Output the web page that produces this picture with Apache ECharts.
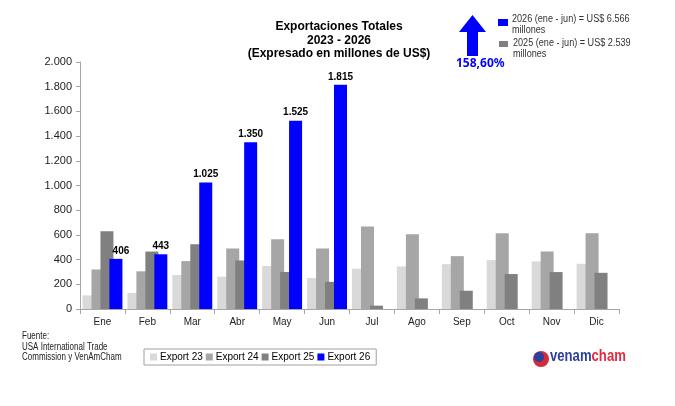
<!DOCTYPE html>
<html>
<head>
<meta charset="utf-8">
<script src="https://cdn.jsdelivr.net/npm/echarts@6/dist/echarts.min.js"></script>
<style>
    html, body { margin: 0; padding: 0; background: #fff; }
    #chart { width: 675px; height: 406px; }
</style>
</head>
<body>
<div id="chart"></div>
<script>
// datos
var meses = ["Ene", "Feb", "Mar", "Abr", "May", "Jun", "Jul", "Ago", "Sep", "Oct", "Nov", "Dic"];
var export23 = [110, 130, 275, 262, 348, 250, 326, 345, 363, 396, 385, 366];
var export24 = [320, 305, 388, 490, 565, 490, 668, 606, 428, 614, 466, 614];
var export25 = [630, 465, 525, 393, 300, 220, 27, 86, 148, 283, 299, 293];
var export26 = [406, 443, 1025, 1350, 1525, 1815, null, null, null, null, null, null];
var nombres = ["Export 23", "Export 24", "Export 25", "Export 26"];
var colores = ["#d9d9d9", "#a6a6a6", "#808080", "#0000ff"];

var fuente = "Liberation Sans, Arial, sans-serif";

//separador de miles con punto
function miles(v) {
    return String(v).replace(/\B(?=(\d{3})+(?!\d))/g, ".");
}

var myChart = echarts.init(document.getElementById('chart'));

var datos = [export23, export24, export25, export26];
var series = [];
for (let i = 0; i < datos.length; i++) {
    let s = {
        name: nombres[i],
        type: 'bar',
        data: datos[i],
        barWidth: 13,
        barGap: '-31%',
        itemStyle: {color: colores[i]}
    };
    if (i === 3) {
        s.label = {
            show: true,
            position: 'top',
            distance: 3,
            color: '#000',
            fontWeight: 'bold',
            fontSize: 10,
            fontFamily: fuente,
            formatter: function (p) {
                return miles(p.value);
            }
        };
        // la etiqueta de enero va corrida a la derecha
        s.labelLayout = function (p) {
            if (p.dataIndex === 0) {
                return {dx: 5};
            }
            return {};
        };
    }
    series.push(s);
}

var option = {
    backgroundColor: '#fff',
    animation: false,
    textStyle: {fontFamily: fuente},
    title: {
        text: "Exportaciones Totales\n2023 - 2026\n(Expresado en millones de US$)",
        left: 334,
        top: 15,
        textAlign: 'center',
        textStyle: {fontSize: 12, fontWeight: 'bold', color: '#000', lineHeight: 13.5, fontFamily: fuente}
    },
    legend: {
        data: nombres,
        left: 144,
        top: 349,
        itemWidth: 7,
        itemHeight: 7,
        itemGap: 3,
        padding: [3, 6, 3, 6],
        borderColor: '#a0a0a0',
        borderWidth: 1,
        icon: 'rect',
        textStyle: {fontSize: 10, color: '#000', fontFamily: fuente, padding: [0, 0, 0, -2]}
    },
    grid: {left: 80, right: 56, top: 62, bottom: 97},
    xAxis: {
        type: 'category',
        data: meses,
        axisLine: {lineStyle: {color: '#a6a6a6'}},
        axisTick: {show: true, length: 5, lineStyle: {color: '#a6a6a6'}},
        axisLabel: {color: '#222', fontSize: 10, margin: 8}
    },
    yAxis: {
        type: 'value',
        min: 0,
        max: 2000,
        interval: 200,
        splitLine: {show: false},
        axisLine: {show: true, lineStyle: {color: '#a6a6a6'}},
        axisTick: {show: true, length: 4, lineStyle: {color: '#a6a6a6'}},
        axisLabel: {
            color: '#222', fontSize: 11, margin: 8,
            formatter: function (v) {
                return miles(v);
            }
        }
    },
    graphic: [
        //flecha azul
        {
            type: 'polygon',
            shape: {points: [[472.5, 15], [486, 32], [478, 32], [478, 56], [467, 56], [467, 32], [459, 32]]},
            style: {fill: '#0000ff'}
        },
        {
            type: 'text', x: 456, y: 58,
            style: {text: "158,60%", fill: '#0000ff', font: 'bold 12px "Noto Sans", sans-serif'}
        },
        {type: 'rect', shape: {x: 498, y: 19, width: 10, height: 7}, style: {fill: '#0000ff'}},
        {
            type: 'text', x: 512, y: 14, scaleX: 0.91,
            style: {text: "2026 (ene - jun) = US$ 6.566\nmillones", fill: '#333', font: '10px ' + fuente, lineHeight: 11}
        },
        {type: 'rect', shape: {x: 499, y: 41, width: 9, height: 6}, style: {fill: '#808080'}},
        {
            type: 'text', x: 513, y: 38, scaleX: 0.91,
            style: {text: "2025 (ene - jun) = US$ 2.539\nmillones", fill: '#333', font: '10px ' + fuente, lineHeight: 11}
        },
        //fuente
        {
            type: 'text', x: 22, y: 331, scaleX: 0.8,
            style: {text: "Fuente:\nUSA International Trade\nCommission y VenAmCham", fill: '#222', font: '10px ' + fuente, lineHeight: 10.5}
        },
        //logo venamcham
        {type: 'circle', shape: {cx: 541, cy: 359, r: 8}, style: {fill: '#d42a3a'}},
        {type: 'circle', shape: {cx: 539, cy: 357, r: 5}, style: {fill: '#2a3f9f'}},
        {
            type: 'text', x: 550, y: 349, scaleX: 0.82,
            style: {
                text: "{a|venam}{b|cham}",
                rich: {
                    a: {fill: '#2a3f9f', font: 'bold 16px ' + fuente},
                    b: {fill: '#e8283a', font: 'bold 16px ' + fuente}
                }
            }
        }
    ],
    series: series
};

myChart.setOption(option);
</script>
</body>
</html>
